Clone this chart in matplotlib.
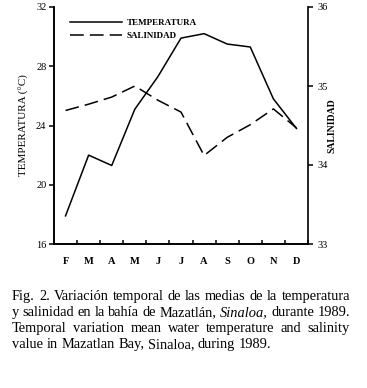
import numpy as np
import matplotlib
matplotlib.use("Agg")
import matplotlib.pyplot as plt
from matplotlib.lines import Line2D

plt.rcParams['font.family'] = ['Liberation Serif', 'DejaVu Serif']

# datos
meses = ['F', 'M', 'A', 'M', 'J', 'J', 'A', 'S', 'O', 'N', 'D']
temperatura = [17.9, 22.0, 21.3, 25.1, 27.3, 29.9, 30.2, 29.5, 29.3, 25.8, 23.8]
salinidad = [34.69, 34.77, 34.86, 35.0, 34.82, 34.67, 34.12, 34.35, 34.51, 34.71, 34.47]
temp_ticks = [16, 20, 24, 28, 32]
sal_ticks = [33, 34, 35, 36]

lineas_es = [
    "Fig. 2. Variación temporal de las medias de la temperatura",
    "y salinidad en la bahía de Mazatlán, *Sinaloa, durante 1989.",
    "Temporal variation mean water temperature and salinity",
    "value in Mazatlan Bay, Sinaloa, during 1989.",
]

W, H = 367, 388
fig = plt.figure(figsize=(W / 100, H / 100), dpi=100)
ax = fig.add_axes([54 / W, 1 - 244 / H, (308 - 54) / W, (244 - 7) / H])
ax2 = ax.twinx()

x = np.arange(len(meses)) + 0.5
ax.plot(x, temperatura, color='black', lw=1.1)
ax2.plot(x, salinidad, color='black', lw=1.1, dashes=(9, 4))

ax.set_xlim(0, len(meses))
ax.set_ylim(16, 32)
ax2.set_ylim(33, 36)

# ejes
for a in (ax, ax2):
    a.spines['top'].set_visible(False)
    for s in a.spines.values():
        s.set_linewidth(1.2)
ax.spines['right'].set_visible(False)

ax.set_xticks(np.arange(len(meses) + 1))
ax.set_xticklabels([])
ax.set_xticks(x, minor=True)
ax.set_xticklabels(meses, minor=True, fontweight='bold', fontsize=7.5)
ax.tick_params(axis='x', which='major', direction='in', length=3, width=1.1)
ax.tick_params(axis='x', which='minor', length=0, pad=9)

ax.set_yticks(temp_ticks)
ax.tick_params(axis='y', direction='out', length=3.5, width=1.1, labelsize=7.5, pad=2)
ax2.set_yticks(sal_ticks)
ax2.tick_params(axis='y', direction='out', length=3.5, width=1.1, labelsize=7.5, pad=3)

ax.set_ylabel('TEMPERATURA (°C)', fontsize=8, labelpad=5)
ax2.set_ylabel('SALINIDAD', fontsize=7, fontweight='bold', rotation=90, labelpad=0)

handles = [Line2D([], [], color='black', lw=1.1),
           Line2D([], [], color='black', lw=1.1, dashes=(9, 4))]
ax.legend(handles, ['TEMPERATURA', 'SALINIDAD'], loc='upper left',
          bbox_to_anchor=(0.03, 0.985), frameon=False, handlelength=5.8,
          handletextpad=0.5, labelspacing=0.55,
          prop={'weight': 'bold', 'size': 6.5})

# pie de figura justificado
fig.canvas.draw()
r = fig.canvas.get_renderer()
x0, x1 = 12, 350
base = [300, 316, 332, 348]
fs = 10.4


def palabras(linea, y, justificar):
    items = []
    for w in linea.split(' '):
        italic = w.startswith('*')
        w = w.lstrip('*')
        t = fig.text(0, 1 - y / H, w, fontsize=fs, va='baseline',
                     style='italic' if italic else 'normal')
        items.append(t)
    anchos = [t.get_window_extent(r).width for t in items]
    if justificar:
        gap = (x1 - x0 - sum(anchos)) / (len(items) - 1)
    else:
        gap = fig.text(0, 0, 'a a', fontsize=fs).get_window_extent(r).width - \
            fig.text(0, 0, 'aa', fontsize=fs).get_window_extent(r).width
        for t in fig.texts[-2:]:
            t.remove()
    pos = x0
    for t, a in zip(items, anchos):
        t.set_x(pos / W)
        pos += a + gap


for i, linea in enumerate(lineas_es):
    palabras(linea, base[i], i < len(lineas_es) - 1)

fig.savefig('out.png', dpi=100)
